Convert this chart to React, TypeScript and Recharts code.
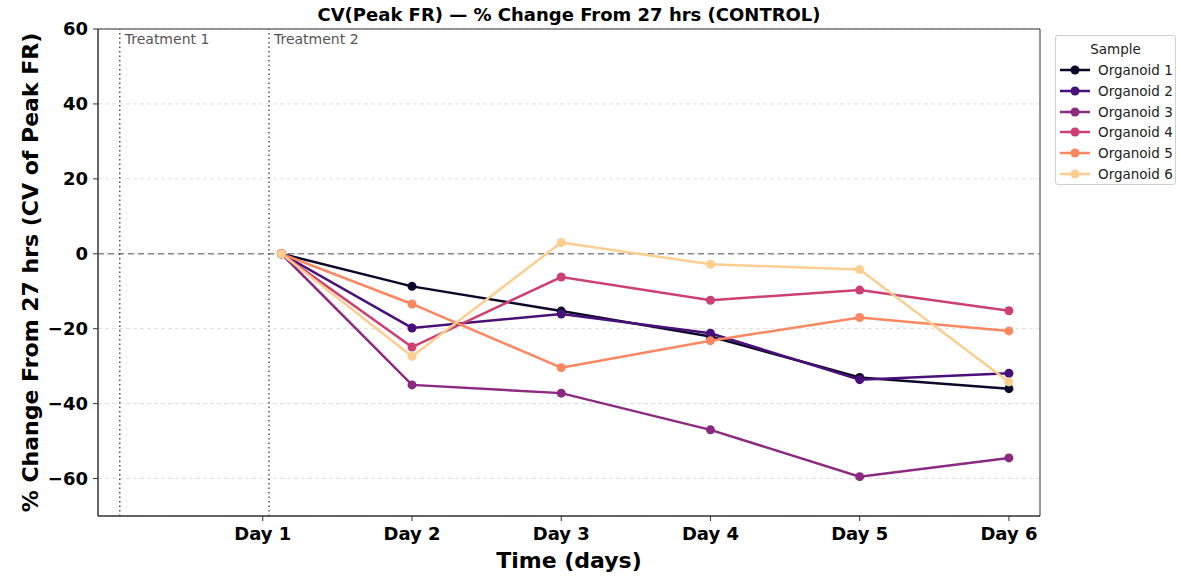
import { LineChart, Line, XAxis, YAxis, CartesianGrid, ReferenceLine, ReferenceArea, Label } from 'recharts';

// hours since start; Day N tick = N * 24 h, first sample at 27 h
const times = [27, 48, 72, 96, 120, 144];
const dayTicks = [24, 48, 72, 96, 120, 144];
const dayLabels = ['Day 1', 'Day 2', 'Day 3', 'Day 4', 'Day 5', 'Day 6'];
const yTicks = [-60, -40, -20, 0, 20, 40, 60];

const organoid1 = [0, -8.7, -15.3, -22.1, -33.0, -36.0];
const organoid2 = [0, -19.8, -16.1, -21.2, -33.6, -31.9];
const organoid3 = [0, -35.0, -37.2, -47.0, -59.5, -54.5];
const organoid4 = [0, -24.9, -6.2, -12.4, -9.7, -15.2];
const organoid5 = [0, -13.4, -30.4, -23.2, -17.0, -20.6];
const organoid6 = [0, -27.4, 3.0, -2.8, -4.2, -34.2];

const seriesNames = ['Organoid 1', 'Organoid 2', 'Organoid 3', 'Organoid 4', 'Organoid 5', 'Organoid 6'];
const seriesValues = [organoid1, organoid2, organoid3, organoid4, organoid5, organoid6];
const seriesColors = ['#0d0829', '#4a1079', '#8c2981', '#cd4071', '#fb8761', '#fecd90'];

const treatments = [
  { t: 1, label: 'Treatment 1' },
  { t: 25, label: 'Treatment 2' },
];

const xDomain = [-2.5, 149];
const yDomain = [-70, 60];

const data = times.map((t, i) => {
  const row: Record<string, number> = { t };
  seriesNames.forEach((name, s) => {
    row[name] = seriesValues[s][i];
  });
  return row;
});

const font = '"DejaVu Sans", sans-serif';

const fmtY = (v: number) => (v < 0 ? '\u2212' + Math.abs(v) : String(v));
const fmtX = (v: number) => dayLabels[dayTicks.indexOf(v)] ?? '';

export default function App() {
  return (
    <div style={{ position: 'absolute', left: 0, top: 0, width: 1179, height: 577, background: '#fff', fontFamily: font }}>
      <div
        style={{
          position: 'absolute',
          left: 98,
          width: 942,
          top: 4,
          textAlign: 'center',
          fontSize: 18,
          fontWeight: 'bold',
          lineHeight: '22px',
          color: '#000',
        }}
      >
        CV(Peak FR) — % Change From 27 hrs (CONTROL)
      </div>

      <LineChart
        width={1179}
        height={577}
        data={data}
        margin={{ top: 29, right: 139, bottom: 0, left: 0 }}
      >
        <CartesianGrid vertical={false} stroke="#dddddd" strokeDasharray="4 3" />
        <XAxis
          type="number"
          dataKey="t"
          domain={xDomain}
          ticks={dayTicks}
          tickFormatter={fmtX}
          height={61}
          allowDataOverflow
          stroke="#333"
          tickSize={5}
          tickMargin={6}
          tick={{ fill: '#000', fontSize: 18, fontWeight: 'bold', fontFamily: font }}
        >
          <Label
            value="Time (days)"
            position="insideBottom"
            offset={9}
            style={{ fill: '#000', fontSize: 22, fontWeight: 'bold', fontFamily: font }}
          />
        </XAxis>
        <YAxis
          type="number"
          domain={yDomain}
          ticks={yTicks}
          tickFormatter={fmtY}
          width={98}
          allowDataOverflow
          stroke="#333"
          tickSize={5}
          tickMargin={5}
          tick={{ fill: '#000', fontSize: 18, fontWeight: 'bold', fontFamily: font }}
        >
          <Label
            value="% Change From 27 hrs (CV of Peak FR)"
            angle={-90}
            position="insideLeft"
            offset={30}
            style={{ fill: '#000', fontSize: 22, fontWeight: 'bold', fontFamily: font, textAnchor: 'middle' }}
          />
        </YAxis>
        <ReferenceArea
          x1={xDomain[0]}
          x2={xDomain[1]}
          y1={yDomain[0]}
          y2={yDomain[1]}
          fill="none"
          stroke="#333"
          strokeWidth={1}
        />
        <ReferenceLine y={0} stroke="#888" strokeWidth={1.5} strokeDasharray="6 4" />
        {treatments.map((tr) => (
          <ReferenceLine
            key={tr.label}
            x={tr.t}
            stroke="#555"
            strokeWidth={1.5}
            strokeDasharray="1.5 3"
            label={{
              value: tr.label,
              position: 'insideTopLeft',
              offset: 5,
              fill: '#555',
              fontSize: 14,
              fontFamily: font,
            }}
          />
        ))}
        {seriesNames.map((name, s) => (
          <Line
            key={name}
            type="linear"
            dataKey={name}
            stroke={seriesColors[s]}
            strokeWidth={2.5}
            dot={{ r: 4.5, fill: seriesColors[s], stroke: seriesColors[s], strokeWidth: 0 }}
            activeDot={false}
            isAnimationActive={false}
          />
        ))}
      </LineChart>

      <div
        style={{
          position: 'absolute',
          left: 1055,
          top: 35,
          width: 121,
          height: 150,
          border: '1px solid #d0d0d0',
          borderRadius: 3,
          boxSizing: 'border-box',
          fontSize: 13.5,
          color: '#222',
        }}
      >
        <div style={{ textAlign: 'center', height: 24, lineHeight: '26px' }}>Sample</div>
        {seriesNames.map((name, s) => (
          <div key={name} style={{ display: 'flex', alignItems: 'center', height: 20.7 }}>
            <svg width={42} height={12} style={{ flex: 'none' }}>
              <line x1={4} x2={34} y1={6} y2={6} stroke={seriesColors[s]} strokeWidth={2.5} />
              <circle cx={19} cy={6} r={4.5} fill={seriesColors[s]} />
            </svg>
            <span style={{ whiteSpace: 'nowrap' }}>{name}</span>
          </div>
        ))}
      </div>
    </div>
  );
}
